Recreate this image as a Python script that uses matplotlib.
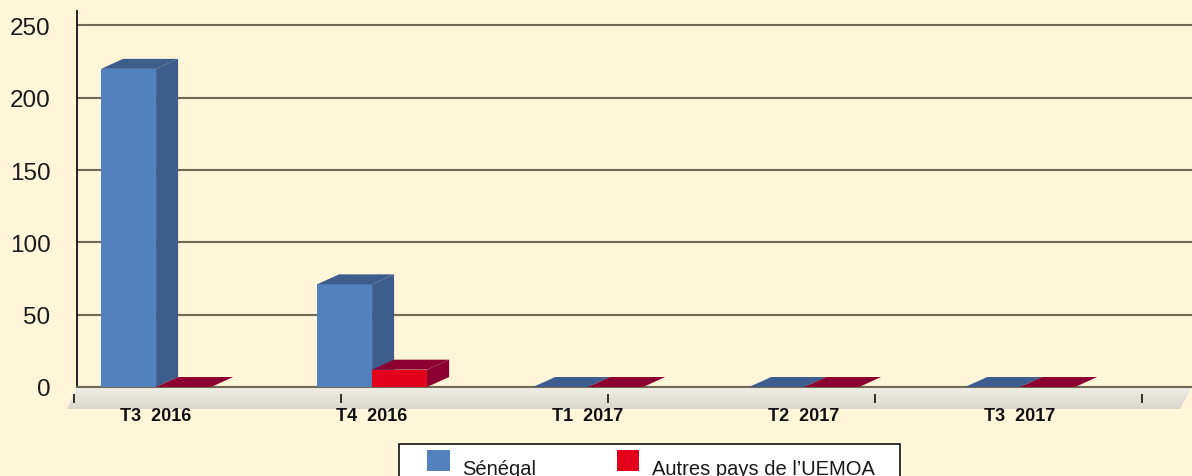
import matplotlib
matplotlib.use("Agg")
import matplotlib.pyplot as plt
import numpy as np
from matplotlib.patches import Polygon, Rectangle
from matplotlib.colors import LinearSegmentedColormap

plt.rcParams['font.family'] = ['Liberation Sans', 'DejaVu Sans']

# data
quarters = ['T3  2016', 'T4  2016', 'T1  2017', 'T2  2017', 'T3  2017']
senegal = [220, 71, 0, 0, 0]
autres_uemoa = [0, 12, 0, 0, 0]
series_names = ['Sénégal', 'Autres pays de l\u2019UEMOA']

# style
BG = '#fff6d9'
GRID = '#6f6a55'
BLUE_FRONT, BLUE_DARK = '#5381bd', '#3d5d8c'
RED_FRONT, RED_DARK = '#e2001b', '#8c0031'

W, H = 1192, 477
fig = plt.figure(figsize=(W / 100, H / 100), dpi=100, facecolor=BG)

# pixel overlay for decorations (floor band, tick marks, legend box)
bg = fig.add_axes([0, 0, 1, 1], zorder=0)
bg.set_xlim(0, W)
bg.set_ylim(H, 0)
bg.axis('off')

floor = Polygon([(77, 388), (1192, 388), (1180, 410), (67, 410)],
				closed=True, facecolor='none', edgecolor='none')
bg.add_patch(floor)
grad = np.linspace(0, 1, 64).reshape(-1, 1)
cmap = LinearSegmentedColormap.from_list('floor', ['#f1eee5', '#d9d6cc'])
im = bg.imshow(grad, extent=[60, 1192, 410, 388], cmap=cmap, aspect='auto')
im.set_clip_path(floor)

bg.vlines([74, 341, 608, 875, 1142], 395, 404, color='#222222', lw=1.3)

# legend box
bg.add_patch(Rectangle((399, 445), 501, 60, facecolor='white',
					   edgecolor='#111111', lw=1.2, clip_on=False))
bg.add_patch(Rectangle((427, 451), 23, 21, facecolor=BLUE_FRONT, edgecolor='none'))
bg.add_patch(Rectangle((617, 451), 22, 21, facecolor=RED_FRONT, edgecolor='none'))
bg.text(462, 475, series_names[0], fontsize=14.5, va='baseline', ha='left', color='#1a1a1a')
bg.text(652, 475, series_names[1], fontsize=14.5, va='baseline', ha='left', color='#1a1a1a')

# main axes
ax = fig.add_axes([77 / W, (H - 388) / H, (W - 77) / W, (388 - 12) / H], zorder=1)
ax.patch.set_alpha(0)
ax.set_xlim(-0.366, 4.796)
ax.set_ylim(0, 260)

bw = 0.2546
dx = 0.102
dy = 6.9

def bar3d(x0, h, front, dark):
	x1 = x0 + bw
	ax.add_patch(Rectangle((x0, 0), bw, h, facecolor=front, edgecolor='none', zorder=3))
	ax.add_patch(Polygon([(x1, 0), (x1 + dx, dy), (x1 + dx, h + dy), (x1, h)],
						 closed=True, facecolor=dark, edgecolor='none', zorder=3))
	ax.add_patch(Polygon([(x0, h), (x0 + dx, h + dy), (x1 + dx, h + dy), (x1, h)],
						 closed=True, facecolor=dark, edgecolor='none', zorder=3))

for i in range(len(quarters)):
	bar3d(i - bw, senegal[i], BLUE_FRONT, BLUE_DARK)
	bar3d(i, autres_uemoa[i], RED_FRONT, RED_DARK)

ax.set_yticks([0, 50, 100, 150, 200, 250])
ax.yaxis.grid(True, color=GRID, lw=1.5)
ax.set_axisbelow(True)
ax.tick_params(axis='y', length=0, pad=19, labelsize=17.5, labelcolor='#1a1a1a')

ax.set_xticks(range(len(quarters)))
ax.set_xticklabels(quarters, fontweight='bold', fontsize=13)
ax.tick_params(axis='x', length=0, pad=14.5, labelcolor='#111111')

for s in ['top', 'right']:
	ax.spines[s].set_visible(False)
ax.spines['left'].set_color('#111111')
ax.spines['left'].set_linewidth(1.3)
ax.spines['bottom'].set_color(GRID)
ax.spines['bottom'].set_linewidth(1.5)

fig.savefig('out.png', dpi=100, facecolor=BG)
